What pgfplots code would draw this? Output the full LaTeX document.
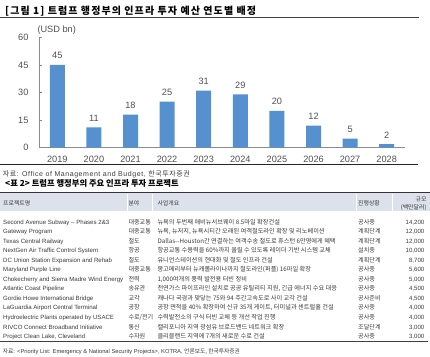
\documentclass[border=0pt]{standalone}
\usepackage{fontspec}
\setmainfont{Liberation Sans}
\newfontfamily\kr{Noto Sans CJK KR}
\newfontfamily\krt[LetterSpace=11]{Noto Sans CJK KR}
\newfontfamily\krs[LetterSpace=8]{Noto Sans CJK KR}
\newfontfamily\las[LetterSpace=8]{Liberation Sans}
\usepackage{pgfplots}
\pgfplotsset{compat=1.18}
\definecolor{barblue}{HTML}{5591CF}
\definecolor{txt}{HTML}{505050}
\definecolor{tbl}{HTML}{3A3A3A}
\definecolor{hdr}{HTML}{DCE1EC}
\newcommand\trow[6]{%
  \node[tl,anchor=west] at (3,#1) {\fontsize{6.1}{7}\selectfont #2};
  \node[tl,anchor=west] at (128.3,#1) {\kr\fontsize{6.1}{7}\selectfont #3};
  \node[tl,anchor=west] at (157.3,#1) {\kr\fontsize{6.2}{7}\selectfont #4};
  \node[tl,anchor=west] at (358,#1) {\kr\fontsize{6.1}{7}\selectfont #5};
  \node[tl,anchor=east] at (424.5,#1) {\fontsize{6.1}{7}\selectfont #6};
}
\begin{document}
\begin{tikzpicture}
\begin{scope}[x=1pt,y=-1pt,tl/.style={inner sep=0pt,text height=0.7em,text depth=0pt,text=tbl}]
\useasboundingbox (0,0) rectangle (430,356);
% chart title
\node[anchor=west,inner sep=0pt] at (5,11.5) {\krt\bfseries\fontsize{10}{11}\selectfont [그림 1] 트럼프 행정부의 인프라 투자 예산 연도별 배정};
\draw[line width=1.3pt,color=black!75] (0,17.3) -- (419,17.3);
\node[anchor=west,inner sep=0pt,text=txt] at (37.3,30) {\fontsize{9.2}{10}\selectfont (USD bn)};
\draw[line width=1.3pt,color=black!85] (0,164.3) -- (418,164.3);
\node[tl,anchor=west] at (2.7,172.5) {\las\fontsize{7}{8}\selectfont{\krs 자료:} Office of Management and Budget, {\krs 한국투자증권}};
\node[anchor=west,inner sep=0pt] at (5,183) {\kr\bfseries\fontsize{8.3}{9}\selectfont <표 2> 트럼프 행정부의 주요 인프라 투자 프로젝트};
% table header
\fill[hdr] (0,192.5) rectangle (430,211);
\draw[line width=1.2pt,color=black!80] (0,192.5) -- (430,192.5);
\foreach \xx in {127.7,152.5,356,392} \draw[white,line width=0.8pt] (\xx,193.5) -- (\xx,211);
\node[tl,anchor=west] at (3,202) {\kr\fontsize{5.9}{7}\selectfont 프로젝트명};
\node[tl,anchor=west] at (128.3,202) {\kr\fontsize{5.9}{7}\selectfont 분야};
\node[tl,anchor=west] at (157.3,202) {\kr\fontsize{5.9}{7}\selectfont 사업개요};
\node[tl,anchor=west] at (358,202) {\kr\fontsize{5.9}{7}\selectfont 진행상황};
\node[tl,anchor=east] at (426.7,198.3) {\kr\fontsize{5.9}{7}\selectfont 규모};
\node[tl,anchor=east] at (426.7,206) {\kr\fontsize{5.9}{7}\selectfont (백만달러)};
% rows
\trow{220.5}{Second Avenue Subway -- Phases 2\&3}{대중교통}{뉴욕의 두번째 애비뉴서브웨이 8.5마일 확장건설}{공사중}{14,200}
\trow{230.05}{Gateway Program}{대중교통}{뉴욕, 뉴저지, 뉴욕시티간 오래된 여객철도라인 확장 및 리노베이션}{계획단계}{12,000}
\trow{239.6}{Texas Central Railway}{철도}{Dallas--Houston간 연결하는 여객수송 철도로 휴스턴 6만명에게 혜택}{계획단계}{12,000}
\trow{249.15}{NextGen Air Traffic Control System}{항공}{항공교통 수용력을 60\%까지 올릴 수 있도록 레이더 기반 시스템 교체}{설치중}{10,000}
\trow{258.7}{DC Union Station Expansion and Rehab}{철도}{유니언스테이션의 현대화 및 철도 인프라 건설}{계획단계}{8,700}
\trow{268.25}{Maryland Purple Line}{대중교통}{몽고메리부터 뉴캐롤라이나까지 철도라인(퍼플) 16마일 확장}{공사중}{5,600}
\trow{277.8}{Chokecherry and Sierra Madre Wind Energy}{전력}{1,000여개의 풍력 발전용 터빈 정비}{공사중}{5,000}
\trow{287.35}{Atlantic Coast Pipeline}{송유관}{천연가스 파이프라인 설치로 공공 유틸리티 지원, 긴급 에너지 수요 대응}{공사중}{4,500}
\trow{296.9}{Gordie Howe International Bridge}{교각}{캐나다 국경과 맞닿는 75와 94 주간고속도로 사이 교각 건설}{공사준비}{4,500}
\trow{306.45}{LaGuardia Airport Central Terminal}{공항}{공항 면적을 40\% 확장하여 신규 35개 게이트, 터미널과 센트럴홀 건설}{공사중}{4,000}
\trow{316.0}{Hydroelectric Plants operated by USACE}{수로/전기}{수력발전소의 구식 터빈 교체 등 개선 작업 진행}{공사중}{4,000}
\trow{325.55}{RIVCO Connect Broadband Initiative}{통신}{캘리포니아 지역 광섬유 브로드밴드 네트워크 확장}{조달단계}{3,000}
\trow{335.1}{Project Clean Lake, Cleveland}{수자원}{클리블랜드 지역에 7개의 새로운 수로 건설}{공사중}{3,000}
\draw[line width=0.8pt,color=black!75] (0,341) -- (428,341);
\node[tl,anchor=west] at (2.7,350) {\fontsize{5.75}{6}\selectfont{\kr 자료:} <Priority List: Emergency \& National Security Projects>, KOTRA, {\kr 언론보도, 한국투자증권}};
\end{scope}
\begin{axis}[
  at={(39pt,-147.7pt)}, anchor=south west,
  scale only axis, width=366pt, height=110.4pt,
  xmin=-0.5, xmax=9.5, ymin=0, ymax=60,
  ytick={0,15,30,45,60},
  xtick={0,...,9},
  xticklabels={2019,2020,2021,2022,2023,2024,2025,2026,2027,2028},
  axis x line*=bottom, axis y line*=left,
  axis line style={-, draw=black!45, line width=0.6pt},
  x tick style={draw=none},
  y tick style={draw=black!45, line width=0.6pt},
  tick align=inside, major tick length=2.5pt,
  /pgf/number format/assume math mode=true,
  ticklabel style={font=\fontsize{9.2}{10}\selectfont, text=txt},
  yticklabel style={xshift=-7pt},
  xticklabel style={yshift=-2pt},
  ybar, bar width=15pt,
  nodes near coords,
  nodes near coords style={font=\fontsize{9.2}{10}\selectfont, text=txt, yshift=2.4pt},
  clip=false,
]
\addplot[fill=barblue, draw=none] coordinates {(0,45)(1,11)(2,18)(3,25)(4,31)(5,29)(6,20)(7,12)(8,5)(9,2)};
\end{axis}
\end{tikzpicture}
\end{document}
